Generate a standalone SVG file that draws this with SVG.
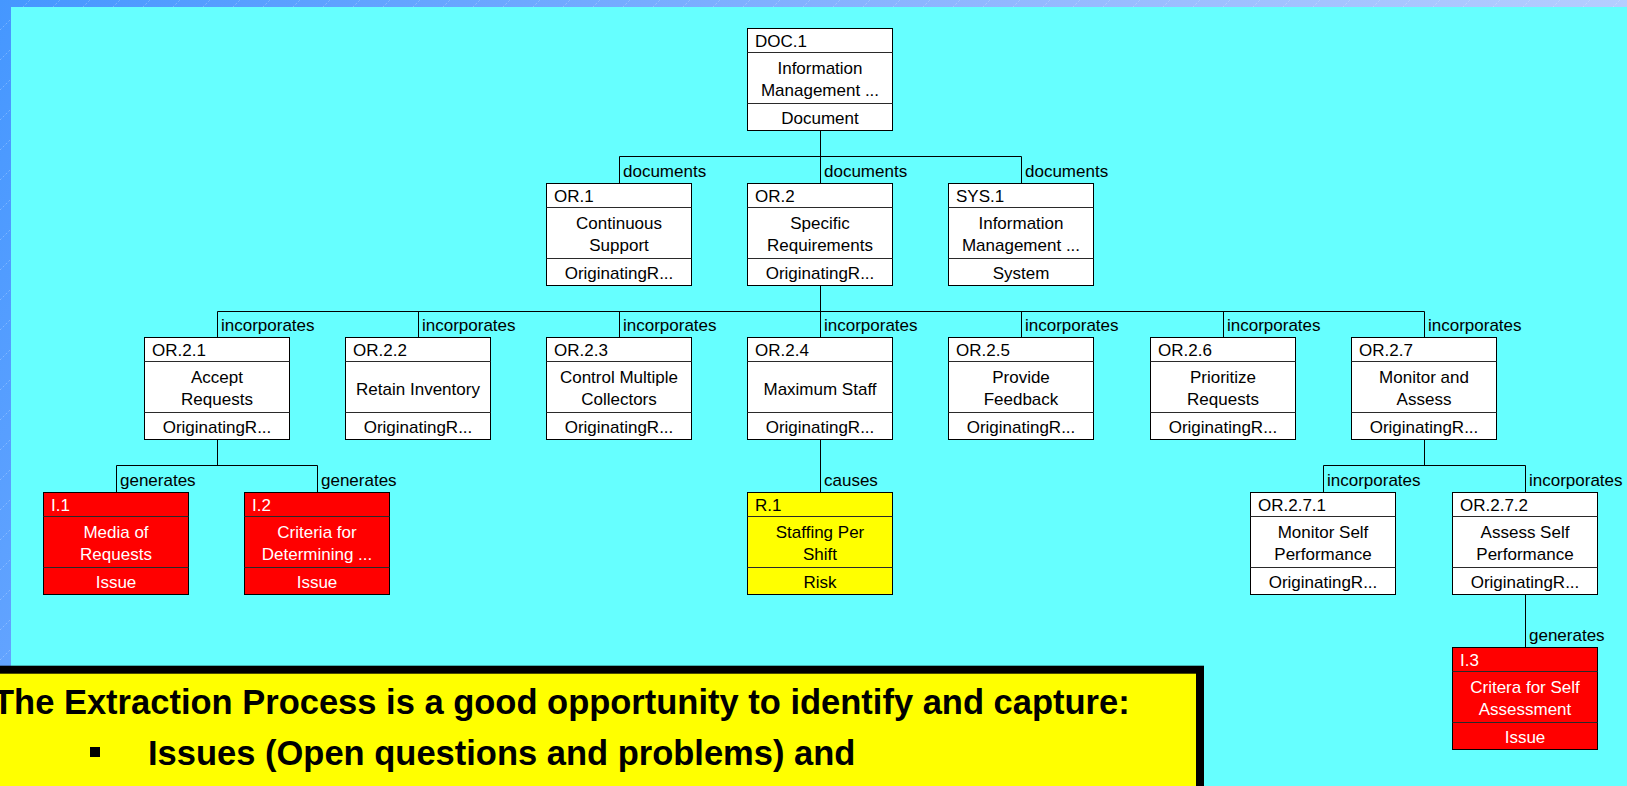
<svg xmlns="http://www.w3.org/2000/svg" width="1627" height="786" viewBox="0 0 1627 786">
  <defs>
    <linearGradient id="frameGrad" gradientUnits="userSpaceOnUse" x1="0" y1="0" x2="1627" y2="900">
      <stop offset="0" stop-color="#4597ff"/>
      <stop offset="0.45" stop-color="#8fb6ff"/>
      <stop offset="1" stop-color="#d2dfff"/>
    </linearGradient>
    <pattern id="streaks" patternUnits="userSpaceOnUse" width="30" height="30">
      <line x1="0" y1="30" x2="30" y2="0" stroke="#ffffff" stroke-width="0.6" stroke-dasharray="2 2" opacity="0.45"/>
    </pattern>
    <style>
      .box { stroke: #000; stroke-width: 1; }
      .w { fill: #ffffff; }
      .r { fill: #ff0000; }
      .y { fill: #ffff00; }
      .div { stroke: #2a2a2a; stroke-width: 1; }
      text { font-family: "Liberation Sans", Arial, sans-serif; font-size: 17px; fill: #000; }
      .hd { text-anchor: start; }
      .bd, .ft { text-anchor: middle; }
      .r-node text { fill: #ffffff; }
      .conn path { fill: none; stroke: #000; stroke-width: 1; }
      .lbl { text-anchor: start; }
      .note { font-weight: bold; font-size: 34.5px; }
    </style>
  </defs>

  <!-- slide frame and canvas -->
  <rect x="0" y="0" width="1627" height="786" fill="url(#frameGrad)"/>
  <rect x="0" y="0" width="1627" height="786" fill="url(#streaks)"/>
  <rect x="11" y="7" width="1616" height="779" fill="#66ffff"/>

  <!-- connectors -->
  <g id="connectors" class="conn">
    <path d="M820.5 130.5V156.5M619.5 156.5H1021.5M619.5 156.5V183.5M820.5 156.5V183.5M1021.5 156.5V183.5"/>
    <path d="M820.5 285.5V311.5M217.5 311.5H1424.5M217.5 311.5V337.5M418.5 311.5V337.5M619.5 311.5V337.5M820.5 311.5V337.5M1021.5 311.5V337.5M1223.5 311.5V337.5M1424.5 311.5V337.5"/>
    <path d="M217.5 439.5V465.5M116.5 465.5H317.5M116.5 465.5V492.5M317.5 465.5V492.5"/>
    <path d="M820.5 439.5V492.5"/>
    <path d="M1424.5 439.5V465.5M1323.5 465.5H1525.5M1323.5 465.5V492.5M1525.5 465.5V492.5"/>
    <path d="M1525.5 594.5V647.5"/>
    <text class="lbl" x="623" y="176.5">documents</text>
    <text class="lbl" x="824" y="176.5">documents</text>
    <text class="lbl" x="1025" y="176.5">documents</text>
    <text class="lbl" x="221" y="330.5">incorporates</text>
    <text class="lbl" x="422" y="330.5">incorporates</text>
    <text class="lbl" x="623" y="330.5">incorporates</text>
    <text class="lbl" x="824" y="330.5">incorporates</text>
    <text class="lbl" x="1025" y="330.5">incorporates</text>
    <text class="lbl" x="1227" y="330.5">incorporates</text>
    <text class="lbl" x="1428" y="330.5">incorporates</text>
    <text class="lbl" x="120" y="485.5">generates</text>
    <text class="lbl" x="321" y="485.5">generates</text>
    <text class="lbl" x="824" y="485.5">causes</text>
    <text class="lbl" x="1327" y="485.5">incorporates</text>
    <text class="lbl" x="1529" y="485.5">incorporates</text>
    <text class="lbl" x="1529" y="640.5">generates</text>
  </g>

  <!-- level 0 -->
  <g id="node-doc1" transform="translate(747.5,28.5)">
    <rect class="box w" width="145" height="102"/>
    <line class="div" x1="0" y1="24" x2="145" y2="24"/>
    <line class="div" x1="0" y1="75" x2="145" y2="75"/>
    <text class="hd" x="7.5" y="18">DOC.1</text>
    <text class="bd" x="72.5" y="45.5">Information</text>
    <text class="bd" x="72.5" y="67.5">Management ...</text>
    <text class="ft" x="72.5" y="95">Document</text>
  </g>

  <!-- level 1 -->
  <g id="node-or1" transform="translate(546.5,183.5)">
    <rect class="box w" width="145" height="102"/>
    <line class="div" x1="0" y1="24" x2="145" y2="24"/>
    <line class="div" x1="0" y1="75" x2="145" y2="75"/>
    <text class="hd" x="7.5" y="18">OR.1</text>
    <text class="bd" x="72.5" y="45.5">Continuous</text>
    <text class="bd" x="72.5" y="67.5">Support</text>
    <text class="ft" x="72.5" y="95">OriginatingR...</text>
  </g>
  <g id="node-or2" transform="translate(747.5,183.5)">
    <rect class="box w" width="145" height="102"/>
    <line class="div" x1="0" y1="24" x2="145" y2="24"/>
    <line class="div" x1="0" y1="75" x2="145" y2="75"/>
    <text class="hd" x="7.5" y="18">OR.2</text>
    <text class="bd" x="72.5" y="45.5">Specific</text>
    <text class="bd" x="72.5" y="67.5">Requirements</text>
    <text class="ft" x="72.5" y="95">OriginatingR...</text>
  </g>
  <g id="node-sys1" transform="translate(948.5,183.5)">
    <rect class="box w" width="145" height="102"/>
    <line class="div" x1="0" y1="24" x2="145" y2="24"/>
    <line class="div" x1="0" y1="75" x2="145" y2="75"/>
    <text class="hd" x="7.5" y="18">SYS.1</text>
    <text class="bd" x="72.5" y="45.5">Information</text>
    <text class="bd" x="72.5" y="67.5">Management ...</text>
    <text class="ft" x="72.5" y="95">System</text>
  </g>

  <!-- level 2 -->
  <g id="node-or21" transform="translate(144.5,337.5)">
    <rect class="box w" width="145" height="102"/>
    <line class="div" x1="0" y1="24" x2="145" y2="24"/>
    <line class="div" x1="0" y1="75" x2="145" y2="75"/>
    <text class="hd" x="7.5" y="18">OR.2.1</text>
    <text class="bd" x="72.5" y="45.5">Accept</text>
    <text class="bd" x="72.5" y="67.5">Requests</text>
    <text class="ft" x="72.5" y="95">OriginatingR...</text>
  </g>
  <g id="node-or22" transform="translate(345.5,337.5)">
    <rect class="box w" width="145" height="102"/>
    <line class="div" x1="0" y1="24" x2="145" y2="24"/>
    <line class="div" x1="0" y1="75" x2="145" y2="75"/>
    <text class="hd" x="7.5" y="18">OR.2.2</text>
    <text class="bd" x="72.5" y="57">Retain Inventory</text>
    <text class="ft" x="72.5" y="95">OriginatingR...</text>
  </g>
  <g id="node-or23" transform="translate(546.5,337.5)">
    <rect class="box w" width="145" height="102"/>
    <line class="div" x1="0" y1="24" x2="145" y2="24"/>
    <line class="div" x1="0" y1="75" x2="145" y2="75"/>
    <text class="hd" x="7.5" y="18">OR.2.3</text>
    <text class="bd" x="72.5" y="45.5">Control Multiple</text>
    <text class="bd" x="72.5" y="67.5">Collectors</text>
    <text class="ft" x="72.5" y="95">OriginatingR...</text>
  </g>
  <g id="node-or24" transform="translate(747.5,337.5)">
    <rect class="box w" width="145" height="102"/>
    <line class="div" x1="0" y1="24" x2="145" y2="24"/>
    <line class="div" x1="0" y1="75" x2="145" y2="75"/>
    <text class="hd" x="7.5" y="18">OR.2.4</text>
    <text class="bd" x="72.5" y="57">Maximum Staff</text>
    <text class="ft" x="72.5" y="95">OriginatingR...</text>
  </g>
  <g id="node-or25" transform="translate(948.5,337.5)">
    <rect class="box w" width="145" height="102"/>
    <line class="div" x1="0" y1="24" x2="145" y2="24"/>
    <line class="div" x1="0" y1="75" x2="145" y2="75"/>
    <text class="hd" x="7.5" y="18">OR.2.5</text>
    <text class="bd" x="72.5" y="45.5">Provide</text>
    <text class="bd" x="72.5" y="67.5">Feedback</text>
    <text class="ft" x="72.5" y="95">OriginatingR...</text>
  </g>
  <g id="node-or26" transform="translate(1150.5,337.5)">
    <rect class="box w" width="145" height="102"/>
    <line class="div" x1="0" y1="24" x2="145" y2="24"/>
    <line class="div" x1="0" y1="75" x2="145" y2="75"/>
    <text class="hd" x="7.5" y="18">OR.2.6</text>
    <text class="bd" x="72.5" y="45.5">Prioritize</text>
    <text class="bd" x="72.5" y="67.5">Requests</text>
    <text class="ft" x="72.5" y="95">OriginatingR...</text>
  </g>
  <g id="node-or27" transform="translate(1351.5,337.5)">
    <rect class="box w" width="145" height="102"/>
    <line class="div" x1="0" y1="24" x2="145" y2="24"/>
    <line class="div" x1="0" y1="75" x2="145" y2="75"/>
    <text class="hd" x="7.5" y="18">OR.2.7</text>
    <text class="bd" x="72.5" y="45.5">Monitor and</text>
    <text class="bd" x="72.5" y="67.5">Assess</text>
    <text class="ft" x="72.5" y="95">OriginatingR...</text>
  </g>

  <!-- level 3 -->
  <g id="node-i1" class="r-node" transform="translate(43.5,492.5)">
    <rect class="box r" width="145" height="102"/>
    <line class="div" x1="0" y1="24" x2="145" y2="24"/>
    <line class="div" x1="0" y1="75" x2="145" y2="75"/>
    <text class="hd" x="7.5" y="18">I.1</text>
    <text class="bd" x="72.5" y="45.5">Media of</text>
    <text class="bd" x="72.5" y="67.5">Requests</text>
    <text class="ft" x="72.5" y="95">Issue</text>
  </g>
  <g id="node-i2" class="r-node" transform="translate(244.5,492.5)">
    <rect class="box r" width="145" height="102"/>
    <line class="div" x1="0" y1="24" x2="145" y2="24"/>
    <line class="div" x1="0" y1="75" x2="145" y2="75"/>
    <text class="hd" x="7.5" y="18">I.2</text>
    <text class="bd" x="72.5" y="45.5">Criteria for</text>
    <text class="bd" x="72.5" y="67.5">Determining ...</text>
    <text class="ft" x="72.5" y="95">Issue</text>
  </g>
  <g id="node-r1" transform="translate(747.5,492.5)">
    <rect class="box y" width="145" height="102"/>
    <line class="div" x1="0" y1="24" x2="145" y2="24"/>
    <line class="div" x1="0" y1="75" x2="145" y2="75"/>
    <text class="hd" x="7.5" y="18">R.1</text>
    <text class="bd" x="72.5" y="45.5">Staffing Per</text>
    <text class="bd" x="72.5" y="67.5">Shift</text>
    <text class="ft" x="72.5" y="95">Risk</text>
  </g>
  <g id="node-or271" transform="translate(1250.5,492.5)">
    <rect class="box w" width="145" height="102"/>
    <line class="div" x1="0" y1="24" x2="145" y2="24"/>
    <line class="div" x1="0" y1="75" x2="145" y2="75"/>
    <text class="hd" x="7.5" y="18">OR.2.7.1</text>
    <text class="bd" x="72.5" y="45.5">Monitor Self</text>
    <text class="bd" x="72.5" y="67.5">Performance</text>
    <text class="ft" x="72.5" y="95">OriginatingR...</text>
  </g>
  <g id="node-or272" transform="translate(1452.5,492.5)">
    <rect class="box w" width="145" height="102"/>
    <line class="div" x1="0" y1="24" x2="145" y2="24"/>
    <line class="div" x1="0" y1="75" x2="145" y2="75"/>
    <text class="hd" x="7.5" y="18">OR.2.7.2</text>
    <text class="bd" x="72.5" y="45.5">Assess Self</text>
    <text class="bd" x="72.5" y="67.5">Performance</text>
    <text class="ft" x="72.5" y="95">OriginatingR...</text>
  </g>

  <!-- level 4 -->
  <g id="node-i3" class="r-node" transform="translate(1452.5,647.5)">
    <rect class="box r" width="145" height="102"/>
    <line class="div" x1="0" y1="24" x2="145" y2="24"/>
    <line class="div" x1="0" y1="75" x2="145" y2="75"/>
    <text class="hd" x="7.5" y="18">I.3</text>
    <text class="bd" x="72.5" y="45.5">Critera for Self</text>
    <text class="bd" x="72.5" y="67.5">Assessment</text>
    <text class="ft" x="72.5" y="95">Issue</text>
  </g>

  <!-- callout panel -->
  <g id="callout">
    <rect x="-10" y="669.7" width="1210" height="140" fill="#ffff00" stroke="#000" stroke-width="8"/>
    <text class="note" x="-7" y="713.5">The Extraction Process is a good opportunity to identify and capture:</text>
    <rect x="90" y="747" width="10" height="10" fill="#000"/>
    <text class="note" x="148" y="765">Issues (Open questions and problems) and</text>
  </g>
</svg>
